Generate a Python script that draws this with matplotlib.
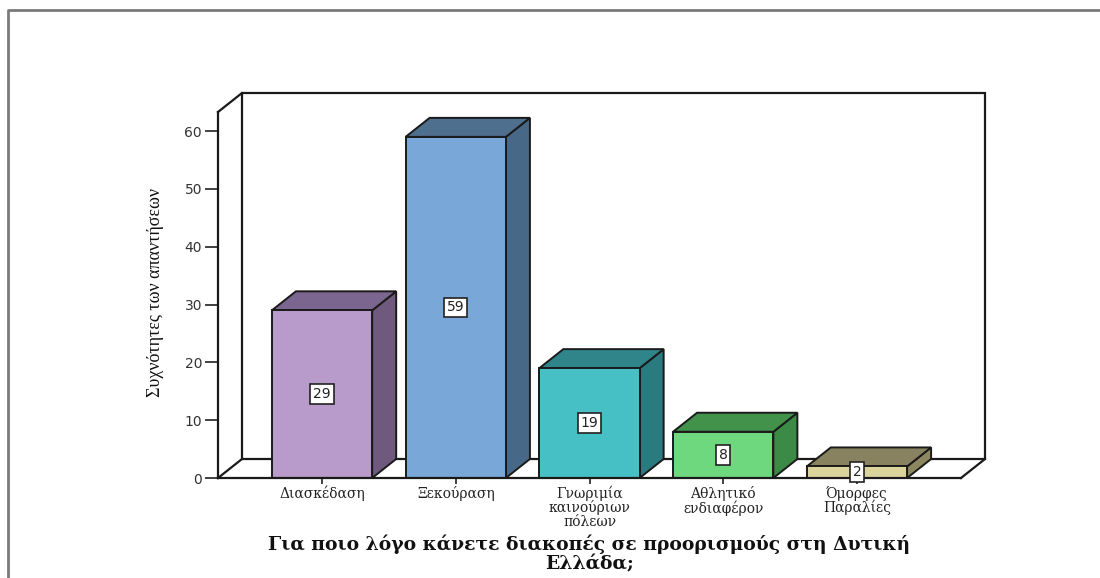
import matplotlib
matplotlib.use('Agg')
import matplotlib.pyplot as plt
from matplotlib.patches import Polygon
from matplotlib.lines import Line2D

categories = ['Διασκέδαση', 'Ξεκούραση', 'Γνωριμία\nκαινούριων\nπόλεων',
              'Αθλητικό\nενδιαφέρον', 'Όμορφες\nΠαραλίες']
counts = [29, 59, 19, 8, 2]
front_colors = ['#b89acb', '#79a7d8', '#47c0c5', '#6dd87e', '#dad49c']
side_colors = ['#6f5a7e', '#476886', '#2a7b7f', '#3b8a46', '#8d875f']
top_colors = ['#7b6690', '#4f6f8f', '#2f858a', '#42924c', '#888260']
yticks = [0, 10, 20, 30, 40, 50, 60]

W, H = 1100, 578
fig = plt.figure(figsize=(W / 100, H / 100), dpi=100)
fig.patch.set_facecolor('white')

# plot box in pixel terms: front floor edge y=478, x from 218 to 961
left, right, bottom, top = 218, 961, 478, 112
ax = fig.add_axes([left / W, (H - bottom) / H, (right - left) / W, (bottom - top) / H])
ax.set_facecolor('none')

xmin, xmax = -0.778, 4.778
ymax = 63.3
ax.set_xlim(xmin, xmax)
ax.set_ylim(0, ymax)

# depth of the pseudo-3D box, in data units (about 24 px right, 19 px up)
dx = 24 / ((right - left) / (xmax - xmin))
dy = 19 / ((bottom - top) / ymax)
bar_w = 0.75

line_kw = dict(color='#1a1a1a', lw=1.6, clip_on=False, solid_joinstyle='miter')

# back wall and floor outline
ax.plot([xmin, xmin + dx, xmax + dx, xmax + dx, xmax],
        [ymax, ymax + dy, ymax + dy, dy, 0], **line_kw)
ax.plot([xmin, xmin + dx, xmax + dx], [0, dy, dy], **line_kw)
ax.plot([xmin + dx, xmin + dx], [dy, ymax + dy], **line_kw)

for i, v in enumerate(counts):
    x0, x1 = i - bar_w / 2, i + bar_w / 2
    side = Polygon([(x1, 0), (x1 + dx, dy), (x1 + dx, v + dy), (x1, v)],
                   closed=True, facecolor=side_colors[i], edgecolor='#1a1a1a',
                   lw=1.4, clip_on=False, zorder=3)
    cap = Polygon([(x0, v), (x1, v), (x1 + dx, v + dy), (x0 + dx, v + dy)],
                  closed=True, facecolor=top_colors[i], edgecolor='#1a1a1a',
                  lw=1.4, clip_on=False, zorder=3)
    front = Polygon([(x0, 0), (x1, 0), (x1, v), (x0, v)], closed=True,
                    facecolor=front_colors[i], edgecolor='#1a1a1a',
                    lw=1.4, clip_on=False, zorder=4)
    for p in (side, cap, front):
        ax.add_patch(p)
    ax.text(i, v / 2, str(v), ha='center', va='center', fontsize=10,
            color='#222222', zorder=6,
            bbox=dict(boxstyle='square,pad=0.2', facecolor='white',
                      edgecolor='#222222', lw=1.2))

for s in ('top', 'right'):
    ax.spines[s].set_visible(False)
for s in ('left', 'bottom'):
    ax.spines[s].set_linewidth(1.6)
    ax.spines[s].set_color('#1a1a1a')
    ax.spines[s].set_zorder(5)

ax.set_yticks(yticks)
ax.tick_params(axis='y', direction='out', length=9.5, width=1.3,
               color='#333333', labelsize=10, labelcolor='#333333', pad=2)
ax.set_xticks(range(len(categories)))
ax.set_xticklabels(categories, family='DejaVu Serif', fontsize=10,
                   color='#222222', linespacing=0.95)
ax.tick_params(axis='x', direction='out', length=4.5, width=1.3,
               color='#333333', pad=1)

ax.set_xlabel('Για ποιο λόγο κάνετε διακοπές σε προορισμούς στη Δυτική\nΕλλάδα;',
              family='DejaVu Serif', fontsize=13.5, fontweight='bold',
              color='#111111', linespacing=1.12)
ax.xaxis.set_label_coords(0.5, -0.155)
ax.set_ylabel('Συχνότητες των απαντήσεων', family='Liberation Serif',
              fontsize=13, color='#111111')
ax.yaxis.set_label_coords(-0.073, 0.508)

# outer frame (top and left edges)
fig.add_artist(Line2D([8 / W, 8 / W, 1.0], [0.0, 1 - 10 / H, 1 - 10 / H],
                      transform=fig.transFigure, color='#7a7a7a', lw=2))

fig.savefig('out.png', dpi=100)
